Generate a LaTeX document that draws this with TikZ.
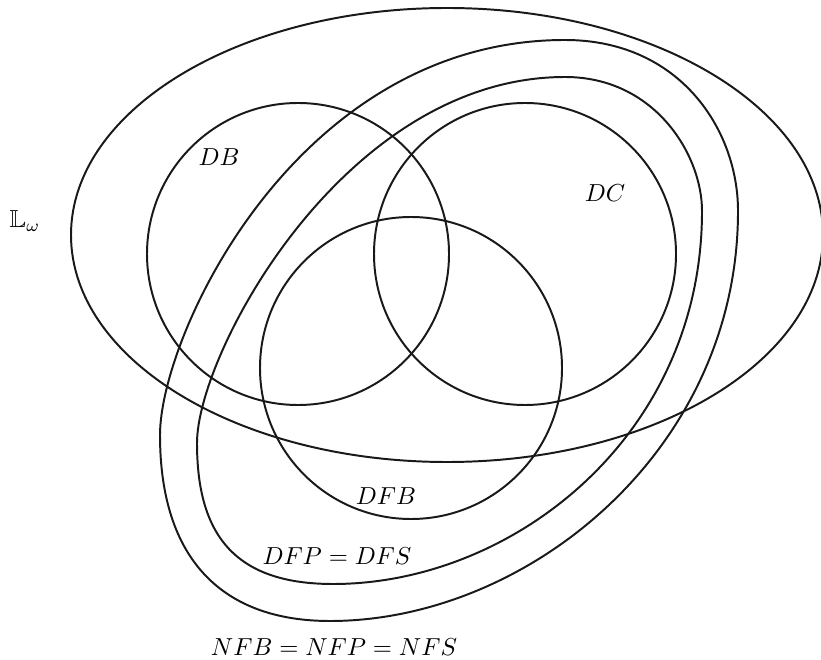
\documentclass[tikz,border=0pt]{standalone}
\usepackage{amsmath}
\usepackage{amssymb}
\usepackage{tikz}
\usetikzlibrary{positioning}

\begin{document}
\begin{tikzpicture}[x=0.0143cm, y=-0.0143cm,
    set/.style={thick, black!90},
    lbl/.style={inner sep=1pt}
  ]
  \useasboundingbox (0,0) rectangle (821,660);

  % the big ellipse L_omega
  \draw[set] (447,235) ellipse [x radius=376, y radius=227];

  % DB, DC and DFB
  \draw[set] (298,254) circle [radius=151];
  \draw[set] (525,254) circle [radius=151];
  \draw[set] (411,368) circle [radius=151];

  % DFP = DFS
  \draw[set] (565,77) .. controls (345,77) and (197,353) .. (197,443)
    .. controls (197,533) and (233,584) .. (333,584)
    .. controls (513,584) and (702,436) .. (702,211)
    .. controls (702,155) and (655,77) .. cycle;

  % NFB = NFP = NFS
  \draw[set] (565,40) .. controls (297,40) and (160,335) .. (160,435)
    .. controls (160,560) and (223,621) .. (330,621)
    .. controls (527,621) and (738,451) .. (738,211)
    .. controls (738,130) and (680,40) .. cycle;

  \node[lbl] (lw)  at (25,221)  {$\mathbb{L}_\omega$};
  \node[lbl] (db)  at (219,157) {$DB$};
  \node[lbl] (dc)  at (605,193) {$DC$};
  \node[lbl] (dfb) at (386,496) {$DFB$};
  \node[lbl] (dfp) at (337,556) {$DFP = DFS$};
  \node[lbl] (nfb) at (334,647) {$NFB = NFP = NFS$};

\end{tikzpicture}
\end{document}
